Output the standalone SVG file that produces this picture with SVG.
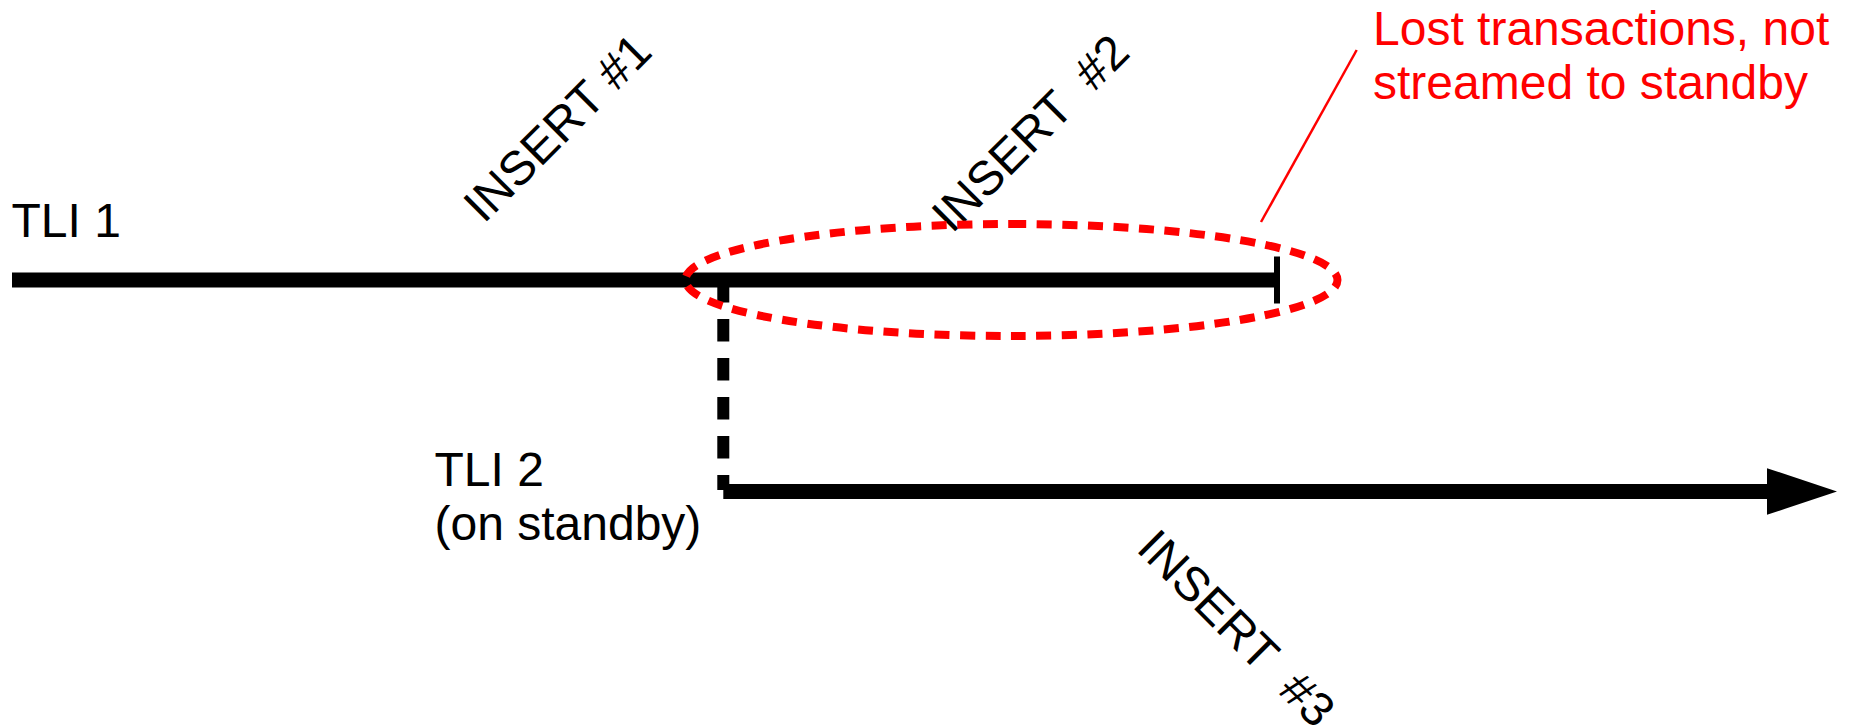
<svg xmlns="http://www.w3.org/2000/svg" width="1856" height="728" viewBox="0 0 1856 728">
  <style>
    text { font-family: "Liberation Sans", Arial, sans-serif; font-size: 48px; white-space: pre; }
    .label { fill: #000000; }
    .note { fill: #ff0000; }
    .timeline { stroke: #000000; stroke-width: 15; fill: none; }
    .branch { stroke: #000000; stroke-width: 12; stroke-dasharray: 22.5 16.5; fill: none; }
    .tick { stroke: #000000; stroke-width: 6; }
    .lost { stroke: #ff0000; stroke-width: 8; stroke-dasharray: 15 10.5; fill: none; }
    .leader { stroke: #ff0000; stroke-width: 2.5; }
  </style>
  <defs>
    <marker id="arrowhead" markerUnits="userSpaceOnUse" markerWidth="70" markerHeight="47" refX="0" refY="23.3" orient="auto">
      <path d="M0,0 L70,23.3 L0,46.6 Z" fill="#000000"/>
    </marker>
  </defs>

  <rect width="1856" height="728" fill="#ffffff"/>

  <!-- write labels on the timelines -->
  <g id="inserts" class="label">
    <text transform="translate(483.7,224.6) rotate(-45)">INSERT #1</text>
    <text transform="translate(952,234.6) rotate(-45)">INSERT  #2</text>
    <text transform="translate(1135,550) rotate(45)">INSERT  #3</text>
  </g>

  <!-- timeline 1 on the old primary, cut short at the failover point -->
  <g id="tli1">
    <line class="timeline" x1="12" y1="280" x2="1277" y2="280"/>
    <line class="tick" x1="1277" y1="256.5" x2="1277" y2="303.5"/>
    <text class="label" x="11.5" y="237">TLI 1</text>
  </g>

  <!-- timeline 2 continuing on the promoted standby -->
  <g id="tli2">
    <line class="timeline" x1="723.3" y1="491.5" x2="1767" y2="491.5" marker-end="url(#arrowhead)"/>
    <text class="label" x="434.5" y="486">TLI 2</text>
    <text class="label" x="434.5" y="540">(on standby)</text>
  </g>

  <!-- branch from timeline 1 down to timeline 2 -->
  <g id="connectors">
    <line class="branch" x1="723.3" y1="280" x2="723.3" y2="490"/>
  </g>

  <!-- annotation for the WAL that never reached the standby -->
  <g id="lost-transactions">
    <path class="lost" d="M1011.5,224 A326,56 0 1 1 1011.5,336 A326,56 0 1 1 1011.5,224 Z"/>
    <line class="leader" x1="1356.7" y1="50" x2="1261" y2="222"/>
    <text class="note" x="1373" y="45">Lost transactions, not</text>
    <text class="note" x="1373" y="99">streamed to standby</text>
  </g>
</svg>
